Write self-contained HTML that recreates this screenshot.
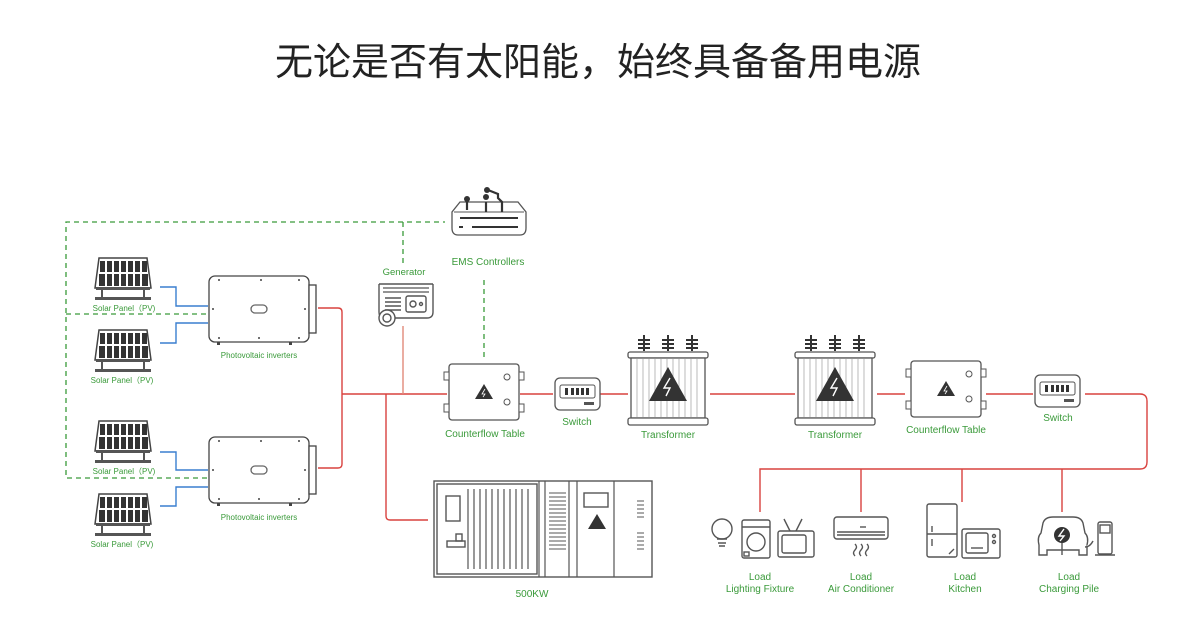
<!DOCTYPE html>
<html><head><meta charset="utf-8"><style>
html,body{margin:0;padding:0;background:#fff;}
svg{display:block;}
.t{font-family:"Liberation Sans","Noto Sans CJK SC",sans-serif;fill:#3a9a3a;text-anchor:middle;}
.s{fill:none;stroke:#555;stroke-width:1.4;}
.d{fill:#3a3a3a;}
</style></head><body>
<svg width="1200" height="641" viewBox="0 0 1200 641" xmlns="http://www.w3.org/2000/svg">
<defs>
<g id="panel">
  <path d="M4 0 H52 L56 30 H0 Z" fill="#fff" stroke="#444" stroke-width="1.5"/>
  <g fill="#333">
    <rect x="5" y="3" width="5" height="11"/><rect x="12" y="3" width="5" height="11"/><rect x="19" y="3" width="5" height="11"/><rect x="26" y="3" width="5" height="11"/><rect x="33" y="3" width="5" height="11"/><rect x="40" y="3" width="5" height="11"/><rect x="47" y="3" width="5" height="11"/>
    <rect x="4" y="16" width="6" height="12"/><rect x="12" y="16" width="5" height="12"/><rect x="19" y="16" width="5" height="12"/><rect x="26" y="16" width="5" height="12"/><rect x="33" y="16" width="5" height="12"/><rect x="40" y="16" width="5" height="12"/><rect x="47" y="16" width="6" height="12"/>
  </g>
  <rect x="1" y="29" width="54" height="3" fill="#555"/>
  <rect x="6" y="32" width="2" height="8" fill="#555"/><rect x="48" y="32" width="2" height="8" fill="#555"/>
  <rect x="0" y="39" width="56" height="3" fill="#555"/>
</g>
<g id="inv">
  <rect x="0" y="0" width="100" height="66" rx="6" fill="#fff" stroke="#444" stroke-width="1.3"/>
  <rect x="100" y="9" width="7" height="48" fill="#fff" stroke="#444" stroke-width="1.3"/>
  <rect x="42" y="29" width="16" height="8" rx="4" fill="none" stroke="#666" stroke-width="1.3"/>
  <g fill="#444"><circle cx="10" cy="4" r="1"/><circle cx="52" cy="4" r="1"/><circle cx="90" cy="4" r="1"/><circle cx="4" cy="33" r="1"/><circle cx="96" cy="33" r="1"/><circle cx="10" cy="62" r="1"/><circle cx="50" cy="62" r="1"/><circle cx="90" cy="62" r="1"/></g>
  <rect x="8" y="66" width="3" height="3" fill="#444"/><rect x="80" y="66" width="3" height="3" fill="#444"/>
</g>
<g id="cft">
  <rect x="0" y="0" width="70" height="56" rx="3" fill="#fff" stroke="#555" stroke-width="1.3"/>
  <rect x="-5" y="8" width="5" height="8" fill="#fff" stroke="#555"/><rect x="-5" y="40" width="5" height="8" fill="#fff" stroke="#555"/>
  <rect x="70" y="8" width="5" height="8" fill="#fff" stroke="#555"/><rect x="70" y="40" width="5" height="8" fill="#fff" stroke="#555"/>
  <circle cx="58" cy="13" r="3" fill="none" stroke="#555"/><circle cx="58" cy="38" r="3" fill="none" stroke="#555"/>
  <path d="M35 20 L44 35 H26 Z" fill="#333"/>
  <path d="M36 25 L33 30 H36 L34 33" stroke="#fff" fill="none" stroke-width="0.8"/>
</g>
<g id="sw">
  <rect x="0" y="0" width="45" height="32" rx="5" fill="#fff" stroke="#555" stroke-width="1.3"/>
  <rect x="5" y="7" width="35" height="13" rx="2" fill="none" stroke="#555"/>
  <g fill="#333"><rect x="10" y="10" width="3" height="7"/><rect x="16" y="10" width="3" height="7"/><rect x="21" y="10" width="3" height="7"/><rect x="26" y="10" width="3" height="7"/><rect x="31" y="10" width="3" height="7"/></g>
  <rect x="29" y="24" width="10" height="3" fill="#555"/>
</g>
<g id="trf">
  <g fill="#333">
    <rect x="15" y="0" width="2" height="16"/><rect x="10" y="4" width="12" height="2"/><rect x="10" y="8" width="12" height="2"/><rect x="10" y="12" width="12" height="2"/>
    <rect x="39" y="0" width="2" height="16"/><rect x="34" y="4" width="12" height="2"/><rect x="34" y="8" width="12" height="2"/><rect x="34" y="12" width="12" height="2"/>
    <rect x="63" y="0" width="2" height="16"/><rect x="58" y="4" width="12" height="2"/><rect x="58" y="8" width="12" height="2"/><rect x="58" y="12" width="12" height="2"/>
  </g>
  <rect x="0" y="17" width="80" height="6" rx="2" fill="#fff" stroke="#555" stroke-width="1.3"/>
  <rect x="3" y="23" width="74" height="60" fill="#fff" stroke="#555" stroke-width="1.3"/>
  <g stroke="#aaa" stroke-width="0.8"><path d="M9 24V82M15 24V82M21 24V82M27 24V82M33 24V82M39 24V82M45 24V82M51 24V82M57 24V82M63 24V82M69 24V82"/></g>
  <rect x="0" y="83" width="80" height="7" rx="2" fill="#fff" stroke="#555" stroke-width="1.3"/>
  <path d="M40 32 L59 66 H21 Z" fill="#333"/>
  <path d="M42 43 L36 53 H42 L38 61" stroke="#fff" fill="none" stroke-width="1.4"/>
</g>
</defs>

<text x="598" y="75" font-family="'Liberation Sans','Noto Sans CJK SC',sans-serif" font-size="38" fill="#222" text-anchor="middle" font-weight="400">无论是否有太阳能，始终具备备用电源</text>

<!-- dashed green -->
<g stroke="#3a9a3a" stroke-width="1.3" stroke-dasharray="5,4" fill="none">
  <path d="M207 478 H66 V222 H445"/>
  <path d="M66 314 H207"/>
  <path d="M403 222 V264"/>
  <path d="M484 280 V358"/>
</g>

<!-- blue -->
<g stroke="#3a7fcf" stroke-width="1.4" fill="none">
  <path d="M160 287 H176 V306 H208"/>
  <path d="M208 323 H176 V343 H160"/>
  <path d="M160 452 H176 V470 H208"/>
  <path d="M208 487 H176 V506 H160"/>
</g>

<!-- red -->
<g stroke="#d9423e" stroke-width="1.4" fill="none">
  <path d="M318 308 H338 Q342 308 342 312 V464 Q342 468 338 468 H318"/>
  <path d="M342 394 H447"/>
  <path d="M403 326 V394" stroke="#e08a7a"/>
  <path d="M386 394 V516 Q386 520 390 520 H428"/>
  <path d="M520 394 H553"/>
  <path d="M600 394 H628"/>
  <path d="M710 394 H795"/>
  <path d="M877 394 H905"/>
  <path d="M986 394 H1033"/>
  <path d="M1085 394 H1140 Q1147 394 1147 401 V462 Q1147 469 1140 469 H760 V512"/>
  <path d="M861 469 V512"/><path d="M962 469 V502"/><path d="M1062 469 V512"/>
</g>

<!-- panels -->
<use href="#panel" x="95" y="258"/>
<use href="#panel" x="95" y="330"/>
<use href="#panel" x="95" y="421"/>
<use href="#panel" x="95" y="494"/>
<text class="t" x="124" y="311" font-size="8">Solar Panel（PV)</text>
<text class="t" x="122" y="383" font-size="8">Solar Panel（PV)</text>
<text class="t" x="124" y="474" font-size="8">Solar Panel（PV)</text>
<text class="t" x="122" y="547" font-size="8">Solar Panel（PV)</text>

<use href="#inv" x="209" y="276"/>
<use href="#inv" x="209" y="437"/>
<text class="t" x="259" y="358" font-size="8">Photovoltaic inverters</text>
<text class="t" x="259" y="520" font-size="8">Photovoltaic inverters</text>

<!-- generator -->
<text class="t" x="404" y="275" font-size="9.5">Generator</text>
<g transform="translate(377,280)">
  <path d="M2 4 V32 Q2 38 8 38 H50 Q56 38 56 32 V4" class="s"/>
  <path d="M2 4 H56" class="s"/>
  <path d="M6 8 H52 M6 12 H52" stroke="#555" stroke-width="1.2"/>
  <g stroke="#555" stroke-width="1.6"><path d="M8 18 H24 M8 22 H24 M8 26 H24 M8 30 H24"/></g>
  <rect x="29" y="16" width="20" height="16" rx="2" class="s"/>
  <circle cx="36" cy="24" r="3" class="s"/><circle cx="44" cy="24" r="1.5" class="s"/>
  <circle cx="10" cy="38" r="8" fill="#fff" stroke="#555" stroke-width="1.4"/><circle cx="10" cy="38" r="4" class="s"/>
</g>

<!-- EMS -->
<g transform="translate(452,188)">
  <path d="M0 40 V24 L8 14 H66 L74 24 V40 Q74 47 68 47 H6 Q0 47 0 40 Z" fill="#fff" stroke="#555" stroke-width="1.3"/>
  <path d="M2 24 H72" stroke="#555"/>
  <path d="M8 30 H66" stroke="#333" stroke-width="2"/>
  <path d="M20 39 H66" stroke="#333" stroke-width="2"/><rect x="7" y="38" width="4" height="2" fill="#333"/>
  <g stroke="#333" stroke-width="2.2" fill="none"><path d="M15 14 V22"/><path d="M34 14 V24"/><path d="M50 24 V14 L46 10 V6 L36 2"/></g>
  <g fill="#333"><circle cx="15" cy="11" r="3"/><circle cx="34" cy="9" r="3"/><circle cx="35" cy="2" r="3"/></g>
</g>
<text class="t" x="488" y="265" font-size="10">EMS Controllers</text>

<use href="#cft" x="449" y="364"/>
<text class="t" x="485" y="437" font-size="10">Counterflow Table</text>
<use href="#sw" x="555" y="378"/>
<text class="t" x="577" y="425" font-size="10">Switch</text>
<use href="#trf" x="628" y="335"/>
<text class="t" x="668" y="438" font-size="10">Transformer</text>
<use href="#trf" x="795" y="335"/>
<text class="t" x="835" y="438" font-size="10">Transformer</text>
<use href="#cft" x="911" y="361"/>
<text class="t" x="946" y="433" font-size="10">Counterflow Table</text>
<use href="#sw" x="1035" y="375"/>
<text class="t" x="1058" y="421" font-size="10">Switch</text>

<!-- 500KW -->
<g transform="translate(434,481)">
  <rect x="0" y="0" width="218" height="96" fill="#fff" stroke="#555" stroke-width="1.4"/>
  <rect x="3" y="3" width="100" height="90" class="s"/>
  <rect x="12" y="15" width="14" height="25" class="s"/>
  <rect x="22" y="53" width="6" height="7" class="s"/><rect x="13" y="60" width="18" height="6" class="s"/>
  <g stroke="#555" stroke-width="1.2" fill="none">
    <path d="M34 8 V88 M40 8 V88 M46 8 V88 M52 8 V88 M58 8 V88 M64 8 V88 M70 8 V88 M76 8 V88 M82 8 V88 M88 8 V88 M94 8 V88"/>
  </g>
  <path d="M105 0 V96 M111 0 V96 M135 0 V96 M143 0 V96 M180 0 V96" stroke="#555" stroke-width="1.2"/>
  <g stroke="#555"><path d="M115 12 H132 M115 16 H132 M115 20 H132 M115 24 H132 M115 28 H132 M115 32 H132 M115 36 H132 M115 40 H132 M115 44 H132 M115 48 H132 M115 52 H132 M115 56 H132 M115 60 H132 M115 64 H132 M115 68 H132"/></g>
  <rect x="150" y="12" width="24" height="14" class="s"/>
  <path d="M163 33 L172 48 H154 Z" fill="#333"/>
  <g stroke="#555"><path d="M203 20 H210 M203 24 H210 M203 28 H210 M203 32 H210 M203 36 H210 M203 52 H210 M203 56 H210 M203 60 H210 M203 64 H210 M203 68 H210"/></g>
</g>
<text class="t" x="532" y="597" font-size="10">500KW</text>

<!-- loads -->
<g transform="translate(710,515)" stroke="#555" stroke-width="1.4" fill="#fff">
  <circle cx="12" cy="14" r="10"/><path d="M7 24 H17 M8 28 H16 M9 31 H15"/>
  <rect x="32" y="5" width="28" height="38" rx="2"/><path d="M32 12 H60"/><circle cx="46" cy="27" r="9"/><rect x="34" y="37" width="5" height="4"/>
  <rect x="68" y="16" width="36" height="26" rx="2"/><rect x="72" y="20" width="24" height="18" rx="2"/><path d="M80 16 L74 4 M86 16 L92 4"/>
</g>
<g transform="translate(834,517)" stroke="#555" stroke-width="1.4" fill="#fff">
  <rect x="0" y="0" width="54" height="22" rx="3"/><path d="M3 15 H51 M3 18 H51"/><path d="M26 10 H32" />
  <path d="M21 27 q3 3 0 6 q-3 3 0 6 M27 27 q3 3 0 6 q-3 3 0 6 M33 27 q3 3 0 6 q-3 3 0 6" fill="none"/>
</g>
<g transform="translate(927,504)" stroke="#555" stroke-width="1.4" fill="#fff">
  <rect x="0" y="0" width="30" height="53" rx="2"/><path d="M0 30 H30 M5 22 V28 M5 35 V42 M22 50 L27 45"/>
  <rect x="35" y="25" width="38" height="29" rx="2"/><rect x="39" y="29" width="22" height="20" rx="2"/><path d="M44 44 H56"/><circle cx="67" cy="32" r="1.5"/><circle cx="67" cy="38" r="1.5"/>
</g>
<g transform="translate(1035,515)" stroke="#555" stroke-width="1.4" fill="#fff">
  <path d="M8 8 Q10 2 18 2 H38 Q46 2 48 8 L50 18 Q54 22 52 30 V40 H44 V35 H12 V40 H4 V30 Q2 22 6 18 Z"/>
  <circle cx="27" cy="20" r="8" fill="#333" stroke="none"/>
  <path d="M29 14 L24 21 H29 L25 26" stroke="#fff" fill="none" stroke-width="1.4"/>
  <path d="M27 28 V40 M50 32 Q55 32 58 26"/>
  <rect x="63" y="7" width="14" height="32" rx="2"/><rect x="65" y="10" width="10" height="8"/><path d="M60 40 H80"/>
</g>
<g class="t" font-size="10">
<text x="760" y="580">Load</text><text x="760" y="592">Lighting Fixture</text>
<text x="861" y="580">Load</text><text x="861" y="592">Air Conditioner</text>
<text x="965" y="580">Load</text><text x="965" y="592">Kitchen</text>
<text x="1069" y="580">Load</text><text x="1069" y="592">Charging Pile</text>
</g>
</svg>
</body></html>
